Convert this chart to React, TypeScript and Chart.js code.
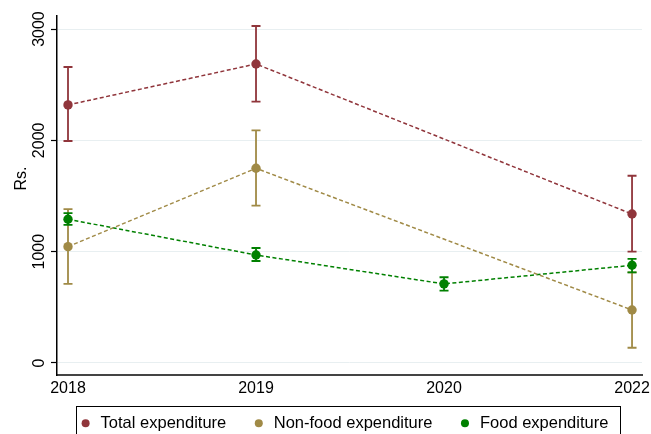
import React, { useEffect, useRef } from 'react';
import { Chart, registerables } from 'chart.js';

Chart.register(...registerables);

const FONT = '"Liberation Sans", Arial, Helvetica, sans-serif';

const categories = ['2018', '2019', '2020', '2022'];
const seriesNames = ['Total expenditure', 'Non-food expenditure', 'Food expenditure'];
const seriesColors = ['#90353b', '#a08a46', '#008000'];

const totalMean = [2318, 2686, null, 1338];
const totalLower = [1994, 2347, null, 1000];
const totalUpper = [2659, 3027, null, 1682];

const nonFoodMean = [1045, 1749, null, 476];
const nonFoodLower = [710, 1413, null, 137];
const nonFoodUpper = [1383, 2090, null, 814];

const foodMean = [1291, 970, 710, 878];
const foodLower = [1240, 916, 650, 814];
const foodUpper = [1347, 1033, 770, 936];

const yTicks = [0, 1000, 2000, 3000];
const yTitle = 'Rs.';

const means = [totalMean, nonFoodMean, foodMean];
const lowers = [totalLower, nonFoodLower, foodLower];
const uppers = [totalUpper, nonFoodUpper, foodUpper];

const customPlugin = {
  id: 'customStata',
  beforeDatasetsDraw(chart: any) {
    const ctx = chart.ctx;
    const xs = chart.scales.x;
    const ys = chart.scales.y;
    ctx.save();
    for (let s = 0; s < means.length; s++) {
      ctx.strokeStyle = seriesColors[s];
      ctx.lineWidth = 1.8;
      for (let i = 0; i < categories.length; i++) {
        const lo = lowers[s][i];
        const hi = uppers[s][i];
        if (lo == null || hi == null) continue;
        const px = xs.getPixelForValue(i);
        const pLo = ys.getPixelForValue(lo);
        const pHi = ys.getPixelForValue(hi);
        ctx.beginPath();
        ctx.moveTo(px, pLo);
        ctx.lineTo(px, pHi);
        ctx.moveTo(px - 4.5, pLo);
        ctx.lineTo(px + 4.5, pLo);
        ctx.moveTo(px - 4.5, pHi);
        ctx.lineTo(px + 4.5, pHi);
        ctx.stroke();
      }
    }
    ctx.restore();
  },
  afterDraw(chart: any) {
    const ctx = chart.ctx;
    const ca = chart.chartArea;
    ctx.save();
    // y axis title
    ctx.fillStyle = '#000';
    ctx.font = `16px ${FONT}`;
    ctx.translate(13.5, (ca.top + ca.bottom) / 2 - 17);
    ctx.rotate(-Math.PI / 2);
    ctx.textAlign = 'center';
    ctx.textBaseline = 'middle';
    ctx.fillText(yTitle, 0, 0);
    ctx.restore();

    // legend
    ctx.save();
    ctx.font = `16.5px ${FONT}`;
    const r = 4;
    const gapCT = 15;
    const gapTC = 32.5;
    const widths = seriesNames.map((n) => ctx.measureText(n).width);
    let total = r;
    widths.forEach((w, i) => {
      total += gapCT + w;
      if (i < widths.length - 1) total += gapTC;
    });
    const contentLeft = (ca.left + ca.right) / 2 - 4.5 - total / 2;
    const contentRight = contentLeft + total;
    const top = ca.bottom + 31;
    ctx.strokeStyle = '#000';
    ctx.lineWidth = 1;
    ctx.strokeRect(Math.round(contentLeft - 6) + 0.5, Math.round(top) + 0.5, Math.round(contentRight + 11 - (contentLeft - 6)), 45);
    let cx = contentLeft + r;
    ctx.textAlign = 'left';
    ctx.textBaseline = 'middle';
    seriesNames.forEach((n, i) => {
      ctx.fillStyle = seriesColors[i];
      ctx.beginPath();
      ctx.arc(cx, top + 17.2, r, 0, Math.PI * 2);
      ctx.fill();
      ctx.fillStyle = '#000';
      ctx.fillText(n, cx + gapCT, top + 17.4);
      cx += gapCT + widths[i] + gapTC;
    });
    ctx.restore();
  },
};

export default function App() {
  const ref = useRef<HTMLCanvasElement | null>(null);
  useEffect(() => {
    if (!ref.current) return;
    const datasets = means.map((m, s) => ({
      label: seriesNames[s],
      data: m.map((v, i) => ({ x: i, y: v })),
      borderColor: seriesColors[s],
      backgroundColor: seriesColors[s],
      pointBackgroundColor: seriesColors[s],
      pointBorderColor: seriesColors[s],
      pointBorderWidth: 0,
      pointRadius: 4.7,
      borderWidth: 1.5,
      borderDash: [4, 2.5],
      spanGaps: true,
      tension: 0,
      fill: false,
    }));
    const chart = new Chart(ref.current, {
      type: 'line',
      data: { datasets },
      plugins: [customPlugin],
      options: {
        responsive: false,
        animation: false,
        layout: { padding: { top: 8, right: 9, bottom: 39, left: 0 } },
        plugins: {
          legend: { display: false },
          tooltip: { enabled: false },
        },
        scales: {
          x: {
            type: 'linear',
            min: -0.0585,
            max: 3.053,
            afterBuildTicks: (s: any) => {
              s.ticks = categories.map((_, i) => ({ value: i }));
            },
            afterFit: (s: any) => {
              s.height = 20;
              s.paddingLeft = 0;
              s.paddingRight = 0;
            },
            ticks: {
              callback: (v: any) => categories[v],
              font: { family: FONT, size: 16 },
              color: '#000',
              padding: 4,
              maxRotation: 0,
              minRotation: 0,
              autoSkip: false,
            },
            grid: { display: false, drawTicks: false },
            border: { display: true, color: '#444', width: 2 },
          },
          y: {
            type: 'linear',
            min: -108,
            max: 3117,
            afterBuildTicks: (s: any) => {
              s.ticks = yTicks.map((v) => ({ value: v }));
            },
            afterFit: (s: any) => {
              s.width = 49;
              s.paddingTop = 0;
              s.paddingBottom = 0;
            },
            ticks: {
              callback: (v: any) => String(v),
              minRotation: 90,
              maxRotation: 90,
              crossAlign: 'center',
              padding: -6,
              font: { family: FONT, size: 16 },
              color: '#000',
              autoSkip: false,
            },
            grid: {
              color: '#e8eff1',
              lineWidth: 1,
              drawTicks: true,
              tickLength: 6,
              tickColor: '#000',
              tickWidth: 1.2,
            },
            border: { display: true, color: '#000', width: 1.5 },
          },
        },
      } as any,
    });
    return () => chart.destroy();
  }, []);
  return (
    <div style={{ position: 'fixed', left: 8, top: 8, width: 643, height: 426 }}>
      <canvas ref={ref} width={643} height={426} style={{ display: 'block' }} />
    </div>
  );
}
